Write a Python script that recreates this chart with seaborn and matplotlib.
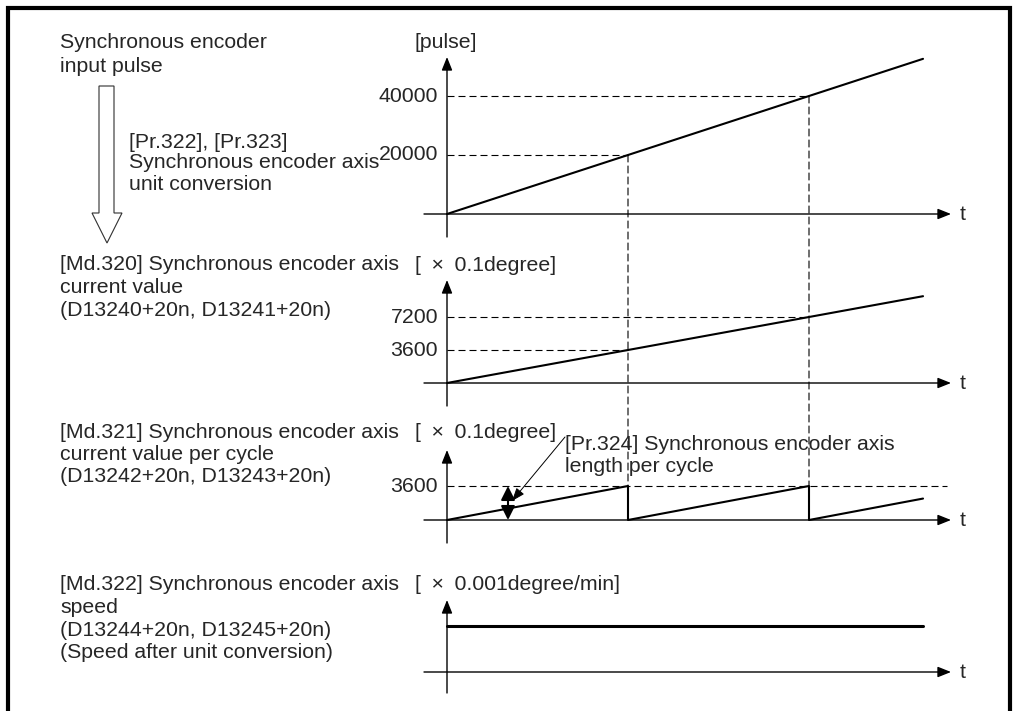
import numpy as np
import pandas as pd
import seaborn as sns
import matplotlib.pyplot as plt
from matplotlib.patches import Polygon, ConnectionPatch
from matplotlib.lines import Line2D

# ---------------- data ----------------
TIME = [0, 1, 2, 2.63]
PULSE = [0, 20000, 40000, 52600]
CURRENT = [0, 3600, 7200, 9470]
CYCLE_T = [0, 1, 1, 2, 2, 2.63]
CYCLE_V = [0, 3600, 0, 3600, 0, 2270]
SPEED_T = [0, 2.63]
SPEED_V = [1, 1]
PULSE_TICKS = [20000, 40000]
CURRENT_TICKS = [3600, 7200]
CYCLE_TICKS = [3600]
LENGTH_PER_CYCLE = 3600
UNITS = ["[pulse]", "[\u2002×\u20020.1degree]", "[\u2002×\u20020.1degree]",
         "[\u2002×\u20020.001degree/min]"]

LEFT_1 = ["Synchronous encoder", "input pulse"]
CONV = ["[Pr.322], [Pr.323]", "Synchronous encoder axis", "unit conversion"]
LEFT_2 = ["[Md.320] Synchronous encoder axis", "current value",
          "(D13240+20n, D13241+20n)"]
LEFT_3 = ["[Md.321] Synchronous encoder axis", "current value per cycle",
          "(D13242+20n, D13243+20n)"]
LEFT_4 = ["[Md.322] Synchronous encoder axis", "speed",
          "(D13244+20n, D13245+20n)", "(Speed after unit conversion)"]
PR324 = ["[Pr.324] Synchronous encoder axis", "length per cycle"]

# ---------------- style ----------------
sns.set_theme(style="white")
plt.rcParams["font.family"] = ["Liberation Sans", "DejaVu Sans"]
plt.rcParams["font.size"] = 15

W, H = 1016, 711
fig = plt.figure(figsize=(W / 100, H / 100), dpi=100)
fig.patch.set_facecolor("white")

X0, TPX = 447, 181          # pixel of t=0 and pixels per time unit
DASH = (0, (6.3, 3.6))
FS = 15.3


def fx(px):
    return px / W


def fy(py):
    return 1 - py / H


def tx(px):
    return (px - X0) / TPX


def make_panel(axis_y, ref_val, ref_px, top, bottom, tip, label_y):
    left, right = 395, 995
    ax = fig.add_axes([fx(left), fy(bottom), (right - left) / W, (bottom - top) / H])
    k = ref_val / ref_px
    p = dict(ax=ax, ay=axis_y, k=k, tip=tip, label=label_y,
             xlim=(tx(left), tx(right)),
             ylim=((axis_y - bottom) * k, (axis_y - top) * k))
    ax.set_xlim(*p["xlim"])
    ax.set_ylim(*p["ylim"])
    ax.set_axis_off()
    ax.patch.set_alpha(0)
    return p


def vy(p, py):
    return (p["ay"] - py) * p["k"]


AX_ARROW = dict(arrowstyle="-|>,head_length=0.8,head_width=0.32",
                mutation_scale=10, color="black", lw=1.0,
                shrinkA=0, shrinkB=0)


def draw_frame(p, unit, ticks, bottom_px):
    ax = p["ax"]
    ax.annotate("", xy=(tx(951), 0), xytext=(tx(424), 0),
                arrowprops=AX_ARROW, annotation_clip=False)
    ax.annotate("", xy=(0, vy(p, p["tip"])), xytext=(0, vy(p, bottom_px)),
                arrowprops=AX_ARROW, annotation_clip=False)
    ax.text(tx(963), 0, "t", ha="center", va="center", fontsize=FS)
    ax.text(tx(415), vy(p, p["label"]), unit, ha="left", va="center", fontsize=FS)
    for v in ticks:
        ax.text(tx(438), v, str(v), ha="right", va="center", fontsize=FS)


p1 = make_panel(214, 20000, 59, 20, 250, 57, 42)
p2 = make_panel(383, 3600, 33, 255, 415, 280, 265)
p3 = make_panel(520, 3600, 34, 420, 550, 450, 432)
p4 = make_panel(672, SPEED_V[0], 46, 575, 700, 600, 585)

draw_frame(p1, UNITS[0], PULSE_TICKS, 237)
draw_frame(p2, UNITS[1], CURRENT_TICKS, 406)
draw_frame(p3, UNITS[2], CYCLE_TICKS, 543)
draw_frame(p4, UNITS[3], [], 693)

# curves
sns.lineplot(x=TIME, y=PULSE, ax=p1["ax"], color="black", lw=1.5,
             estimator=None, sort=False)
sns.lineplot(x=TIME, y=CURRENT, ax=p2["ax"], color="black", lw=1.5,
             estimator=None, sort=False)
sns.lineplot(x=CYCLE_T, y=CYCLE_V, ax=p3["ax"], color="black", lw=1.5,
             estimator=None, sort=False)
sns.lineplot(x=SPEED_T, y=SPEED_V, ax=p4["ax"], color="black", lw=2.2,
             estimator=None, sort=False)

# dashed guides
for t, v in zip(TIME[1:3], PULSE[1:3]):
    p1["ax"].plot([0, t], [v, v], ls=DASH, lw=0.8, color="black")
for t, v in zip(TIME[1:3], CURRENT[1:3]):
    p2["ax"].plot([0, t], [v, v], ls=DASH, lw=0.8, color="black")
p3["ax"].plot([0, tx(947)], [LENGTH_PER_CYCLE, LENGTH_PER_CYCLE],
              ls=DASH, lw=0.8, color="black")
for t, v in zip(TIME[1:3], PULSE[1:3]):
    con = ConnectionPatch(xyA=(t, v), coordsA=p1["ax"].transData,
                          xyB=(t, LENGTH_PER_CYCLE), coordsB=p3["ax"].transData,
                          linestyle=DASH, lw=0.8, color="black")
    fig.add_artist(con)

# length-per-cycle double arrow and leader
ax3 = p3["ax"]
ax3.annotate("", xy=(tx(508), LENGTH_PER_CYCLE), xytext=(tx(508), 0),
             arrowprops=dict(arrowstyle="<|-|>,head_length=0.7,head_width=0.35",
                             mutation_scale=12, color="black", lw=1.5,
                             shrinkA=0, shrinkB=0), annotation_clip=False)
ax3.annotate("", xy=(tx(512), vy(p3, 501)), xytext=(tx(565), vy(p3, 437)),
             arrowprops=dict(arrowstyle="-|>,head_length=0.8,head_width=0.3",
                             mutation_scale=10, color="black", lw=0.7,
                             shrinkA=0, shrinkB=0), annotation_clip=False)
for i, line in enumerate(PR324):
    fig.text(fx(565), fy(445 + 22 * i), line, ha="left", va="center", fontsize=FS)

for ax_ in (p1, p2, p3, p4):
    ax_["ax"].set_xlim(*ax_["xlim"])
    ax_["ax"].set_ylim(*ax_["ylim"])


# left-hand descriptions
def block(lines, x, y0, step=22.5):
    for i, line in enumerate(lines):
        fig.text(fx(x), fy(y0 + step * i), line, ha="left", va="center", fontsize=FS)


block(LEFT_1, 60, 43, 23)
block(CONV, 129, 142, 21)
block(LEFT_2, 60, 265)
block(LEFT_3, 60, 432)
block(LEFT_4, 60, 585)

# hollow conversion arrow
arrow_px = [(99, 86), (114, 86), (114, 213), (122, 213), (107, 243),
            (92, 213), (99, 213)]
fig.add_artist(Polygon([(fx(x), fy(y)) for x, y in arrow_px], closed=True,
                       transform=fig.transFigure, facecolor="white",
                       edgecolor="#303030", lw=0.8))

# frame (open at the bottom)
fig.add_artist(Line2D([fx(8), fx(8), fx(1010), fx(1010)],
                      [fy(712), fy(8), fy(8), fy(712)],
                      transform=fig.transFigure, color="black", lw=3,
                      solid_joinstyle="miter"))

fig.savefig("out.png", dpi=100, facecolor="white")
